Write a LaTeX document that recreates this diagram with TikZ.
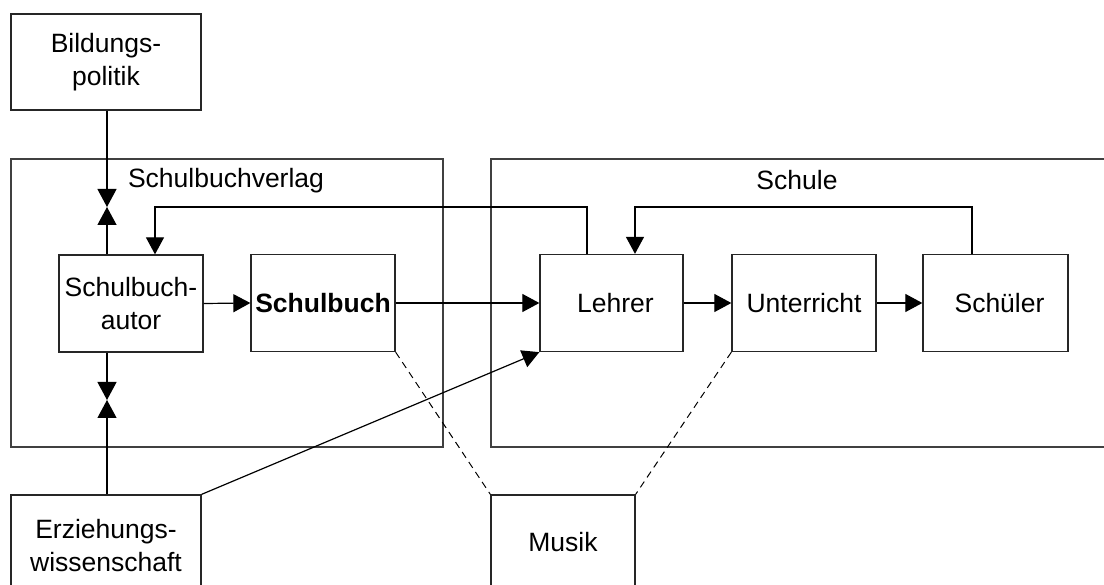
\documentclass[tikz,border=0pt]{standalone}
\usepackage{fontspec}
\setmainfont{Liberation Sans}
\usetikzlibrary{arrows.meta}
\begin{document}
\begin{tikzpicture}[x=1pt,y=-1pt,
  txt/.style={font=\fontsize{26.5}{33}\selectfont},
  box/.style={txt,draw=black!85,line width=1.3pt,inner sep=0pt,align=center,
    minimum width=144pt,minimum height=97pt},
  cont/.style={draw=black!75,line width=1.5pt,inner sep=0pt},
  conn/.style={line width=1.2pt},
  arr/.style={conn,-{Triangle[length=17pt,width=18pt]}},
  barr/.style={conn,-{Triangle[length=18pt,width=19pt]}},
  dsh/.style={line width=1pt,dash pattern=on 7pt off 5pt}]
\useasboundingbox (0,0) rectangle (1104,585);
\clip (0,0) rectangle (1104,585);
% containers
\node[cont,minimum width=432pt,minimum height=288pt] (verlag) at (227,303) {};
\node[cont,minimum width=619pt,minimum height=288pt] (schule) at (800.5,303) {};
\node[txt,anchor=base] (verlagl) at (226,188) {Schulbuchverlag};
\node[txt,anchor=base] (schulel) at (797,190) {Schule};
% boxes
\node[box,minimum width=190pt,minimum height=96pt] (bild) at (106,62) {Bildungs-\\politik};
\node[box] (autor) at (131,303.5) {Schulbuch-\\autor};
\node[box] (buch) at (323,303) {\bfseries Schulbuch};
\node[box,minimum width=143pt] (lehrer) at (611.5,303) {\hspace*{8pt}Lehrer};
\node[box] (unt) at (804,303) {Unterricht};
\node[box,minimum width=145pt] (schueler) at (995.5,303) {\hspace*{8pt}Schüler};
\node[box,minimum width=190pt,minimum height=102pt] (erz) at (106,546) {Erziehungs-\\wissenschaft};
\node[box,minimum height=94pt] (musik) at (563,542) {Musik};
% coordinates
\coordinate (topmeet) at (107,207);
\coordinate (botmeet) at (107,400);
\coordinate (fb1r) at (587,207);
\coordinate (fb1l) at (155,207);
\coordinate (fb2r) at (972,207);
\coordinate (fb2l) at (635,207);
% bowties
\draw[barr] (bild.south -| topmeet) -- (topmeet);
\draw[barr] (autor.north -| topmeet) -- (topmeet);
\draw[barr] (autor.south -| botmeet) -- (botmeet);
\draw[barr] (erz.north -| botmeet) -- (botmeet);
% main chain
\draw[arr] (autor.east) -- (buch.west);
\draw[arr] (buch.east) -- (lehrer.west);
\draw[arr] (lehrer.east) -- (unt.west);
\draw[arr] (unt.east) -- (schueler.west);
% feedback
\draw[arr] (lehrer.north -| fb1r) -- (fb1r) -- (fb1l) -- (autor.north -| fb1l);
\draw[arr] (schueler.north -| fb2r) -- (fb2r) -- (fb2l) -- (lehrer.north -| fb2l);
% diagonal
\draw[arr] (erz.north east) -- (lehrer.south west);
% dashed
\draw[dsh] (buch.south east) -- (musik.north west);
\draw[dsh] (unt.south west) -- (musik.north east);
\end{tikzpicture}
\end{document}
